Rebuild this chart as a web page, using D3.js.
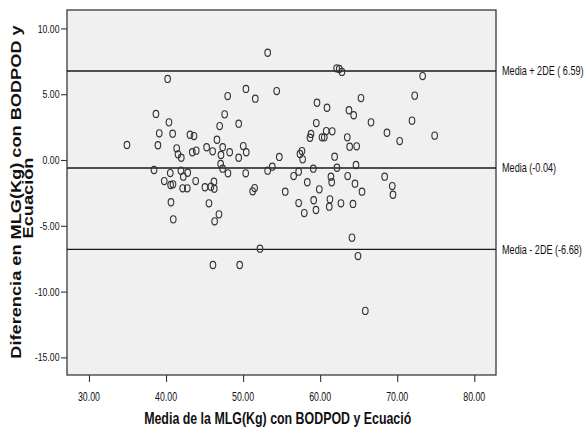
<!DOCTYPE html>
<html><head><meta charset="utf-8">
<script src="https://cdn.jsdelivr.net/npm/d3@7"></script>
<style>
body{margin:0;background:#fff}
svg{display:block}
text{font-family:"Liberation Sans",Arial,sans-serif;fill:#111}
</style>
</head><body><svg id="c" width="585" height="427"></svg>
<script>
// Bland-Altman data: mean of both methods (x) and difference (y)
const meanX = [53.19,40.21,50.37,48.00,51.58,38.69,47.61,40.38,46.96,49.43,
39.12,40.86,43.11,43.63,34.93,38.95,46.61,41.38,41.55,41.98,
43.41,43.92,45.27,46.05,47.35,48.26,50.02,50.41,49.43,47.13,
47.09,47.35,48.04,50.34,53.19,38.44,40.55,41.94,42.81,42.24,
39.77,40.60,40.90,42.16,42.76,43.85,45.05,45.83,46.22,46.26,
51.50,51.24,40.64,45.57,40.94,46.87,46.31,52.19,46.09,49.56,
62.14,62.48,62.83,73.30,54.36,72.27,65.30,59.59,60.89,63.74,
64.35,66.60,59.50,71.92,68.67,58.81,58.68,60.24,60.54,60.79,
61.57,63.52,74.86,70.32,63.83,64.74,57.64,57.38,57.73,54.70,
61.88,53.79,57.21,59.11,62.18,64.65,56.56,61.40,63.57,68.37,
61.50,69.36,69.45,58.33,59.89,64.52,65.43,55.47,57.21,59.16,
57.94,59.46,61.27,61.18,62.70,64.26,64.13,64.91,65.86];
const diffY = [8.15,6.16,5.40,4.86,4.66,3.50,3.47,2.86,2.58,2.76,
2.03,2.00,1.92,1.82,1.14,1.12,1.54,0.89,0.43,0.17,
0.59,0.71,0.97,0.66,0.97,0.59,1.06,0.59,0.17,0.38,
-0.30,-0.66,-1.01,-1.01,-0.81,-0.76,-0.99,-0.81,-0.97,-1.27,
-1.60,-1.90,-1.85,-2.15,-2.15,-1.60,-2.07,-2.03,-1.65,-2.18,
-2.13,-2.38,-3.21,-3.29,-4.51,-4.13,-4.66,-6.74,-7.98,-7.98,
6.97,6.92,6.69,6.38,5.24,4.89,4.71,4.35,3.97,3.78,
3.40,2.86,2.81,2.99,2.07,1.98,1.69,1.72,1.72,2.20,
2.18,1.72,1.85,1.44,1.01,1.04,0.68,0.46,0.05,0.23,
0.25,-0.51,-0.89,-0.66,-0.59,-0.38,-1.22,-1.27,-1.22,-1.27,
-1.69,-1.98,-2.64,-1.69,-2.23,-1.80,-2.41,-2.41,-3.27,-3.06,
-4.03,-3.80,-2.99,-3.55,-3.29,-3.34,-5.90,-7.30,-11.47];

const refValues = [6.76, -0.61, -6.79];
const refLabels = ["Media + 2DE ( 6.59)", "Media (-0.04)", "Media - 2DE (-6.68)"];
const xTicks = [30, 40, 50, 60, 70, 80];
const xTickLabels = ["30.00", "40.00", "50.00", "60.00", "70.00", "80.00"];
const yTicks = [10, 5, 0, -5, -10, -15];
const yTickLabels = ["10.00", "5.00", "0.00", "-5.00", "-10.00", "-15.00"];
const xTitle = "Media de la MLG(Kg) con BODPOD y Ecuación";
const yTitle = ["Diferencia en MLG(Kg) con BODPOD y", "Ecuación"];

const points = meanX.map((m, i) => ({x: m, y: diffY[i]}));

const svg = d3.select("#c");
const L = 67, R = 496, T = 10, B = 375;
const SY = 1.35; // vertical stretch of horizontal text

const x = d3.scaleLinear().domain([27.15, 82.82]).range([L, R]);
const y = d3.scaleLinear().domain([-16.34, 11.40]).range([B, T]);

// plot background + frame
svg.append("rect").attr("x", L).attr("y", T).attr("width", R - L).attr("height", B - T)
  .attr("fill", "#f0f0f0").attr("stroke", "#3a3a3a").attr("stroke-width", 1.3);

// ticks
const ya = svg.append("g").attr("transform", `translate(${L},0)`)
  .call(d3.axisLeft(y).tickValues(yTicks).tickSize(6).tickFormat(""));
const xa = svg.append("g").attr("transform", `translate(0,${B})`)
  .call(d3.axisBottom(x).tickValues(xTicks).tickSize(7).tickFormat(""));
[ya, xa].forEach(g => {
  g.select(".domain").remove();
  g.selectAll(".tick line").attr("stroke", "#333").attr("stroke-width", 1.1);
});

// tick labels
svg.append("g").selectAll("text").data(yTicks).join("text")
  .attr("transform", d => `translate(59.5,${y(d)}) scale(1,${SY})`)
  .attr("text-anchor", "end").attr("dy", "0.35em")
  .attr("font-size", 8.7).text((d, i) => yTickLabels[i]);
svg.append("g").selectAll("text").data(xTicks).join("text")
  .attr("transform", d => `translate(${x(d)},397) scale(1,${SY})`)
  .attr("text-anchor", "middle").attr("dy", "0.35em")
  .attr("font-size", 8.8).text((d, i) => xTickLabels[i]);

// reference lines
svg.append("g").selectAll("line").data(refValues).join("line")
  .attr("x1", L).attr("x2", R).attr("y1", d => y(d)).attr("y2", d => y(d))
  .attr("stroke", "#1a1a1a").attr("stroke-width", 1.4);
svg.append("g").selectAll("text").data(refValues).join("text")
  .attr("transform", d => `translate(502,${y(d)}) scale(1,${SY})`)
  .attr("dy", "0.35em").attr("font-size", 9.1)
  .text((d, i) => refLabels[i]);

// points
svg.append("g").selectAll("ellipse").data(points).join("ellipse")
  .attr("cx", d => x(d.x)).attr("cy", d => y(d.y))
  .attr("rx", 2.8).attr("ry", 3.6)
  .attr("fill", "none").attr("stroke", "#333").attr("stroke-width", 1.1);

// x title (clipped as in the reference)
svg.append("clipPath").attr("id", "xclip").append("rect")
  .attr("x", 0).attr("y", 395).attr("width", 411).attr("height", 32);
svg.append("g").attr("clip-path", "url(#xclip)").append("text")
  .attr("transform", `translate(${(L + R) / 2},418) scale(1,${SY})`)
  .attr("text-anchor", "middle").attr("dy", "0.35em")
  .attr("font-size", 12.4).attr("font-weight", "bold").text(xTitle);

// y title (two lines)
const yCenters = [[21, 192], [33, 198]];
svg.append("g").selectAll("text").data(yTitle).join("text")
  .attr("transform", (d, i) => `translate(${yCenters[i][0]},${yCenters[i][1]}) rotate(-90) scale(1.3,1)`)
  .attr("text-anchor", "middle")
  .attr("font-size", 14).attr("font-weight", "bold").text(d => d);
</script>
</body></html>
